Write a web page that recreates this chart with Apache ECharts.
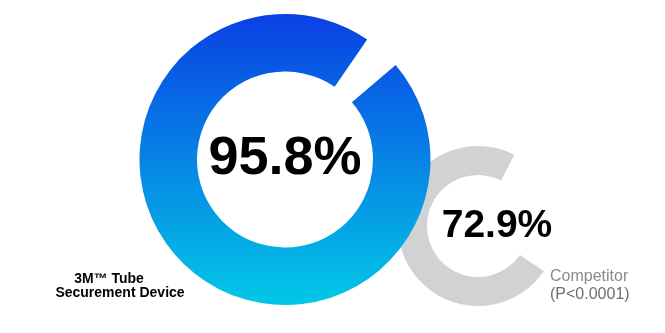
<!DOCTYPE html>
<html>
<head>
<meta charset="utf-8">
<style>
html,body{margin:0;padding:0;background:#fff;}
#chart{width:665px;height:333px;}
</style>
<script src="https://cdn.jsdelivr.net/npm/echarts@6/dist/echarts.min.js"></script>
</head>
<body>
<div id="chart"></div>
<script>
const categories = ['3M™ Tube Securement Device', 'Competitor'];
const values = [95.8, 72.9];
const remainders = [4.2, 27.1];
const nameLines3M = ['3M™ Tube', 'Securement Device'];
const nameLinesComp = ['Competitor', '(P<0.0001)'];

const chart = echarts.init(document.getElementById('chart'), null, {renderer: 'canvas'});
const FONT = '"Liberation Sans", Arial, sans-serif';

chart.setOption({
  animation: false,
  backgroundColor: '#ffffff',
  series: [
    {
      type: 'pie',
      name: categories[1],
      silent: true,
      z: 1,
      center: [478, 226],
      radius: [51, 80],
      startAngle: -34.5,
      clockwise: true,
      labelLine: {show: false},
      data: [
        {
          name: categories[1], value: values[1],
          itemStyle: {color: '#d1d2d4'},
          label: {
            show: true, position: 'center', offset: [19, 0],
            formatter: p => p.value + '%',
            fontFamily: FONT, fontWeight: 'bold', fontSize: 39, color: '#000'
          }
        },
        {name: 'rest', value: remainders[1], itemStyle: {color: 'rgba(0,0,0,0)'}, label: {show: false}}
      ]
    },
    {
      type: 'pie',
      name: categories[0],
      silent: true,
      z: 2,
      center: [285, 159.5],
      radius: [88, 145.5],
      startAngle: 40.5,
      clockwise: true,
      labelLine: {show: false},
      data: [
        {
          name: categories[0], value: values[0],
          itemStyle: {
            color: new echarts.graphic.LinearGradient(0, 0, 0, 1, [
              {offset: 0, color: '#0a40e4'},
              {offset: 1, color: '#02c8e6'}
            ])
          },
          label: {
            show: true, position: 'center',
            formatter: p => p.value + '%',
            fontFamily: FONT, fontWeight: 'bold', fontSize: 54, color: '#000'
          }
        },
        {name: 'rest', value: remainders[0], itemStyle: {color: 'rgba(0,0,0,0)'}, label: {show: false}}
      ]
    }
  ],
  graphic: [
    {type: 'text', x: 109, y: 278.7, style: {text: nameLines3M[0], textAlign: 'center', textVerticalAlign: 'middle', font: 'bold 14px ' + FONT, fill: '#000'}},
    {type: 'text', x: 120, y: 293, style: {text: nameLines3M[1], textAlign: 'center', textVerticalAlign: 'middle', font: 'bold 14px ' + FONT, fill: '#000'}},
    {type: 'text', x: 550, y: 276.4, style: {text: nameLinesComp[0], textAlign: 'left', textVerticalAlign: 'middle', font: '16px ' + FONT, fill: '#8a8a8a'}},
    {type: 'text', x: 550, y: 294.4, style: {text: nameLinesComp[1], textAlign: 'left', textVerticalAlign: 'middle', font: '16px ' + FONT, fill: '#6e6e6e'}}
  ]
});
</script>
</body>
</html>
